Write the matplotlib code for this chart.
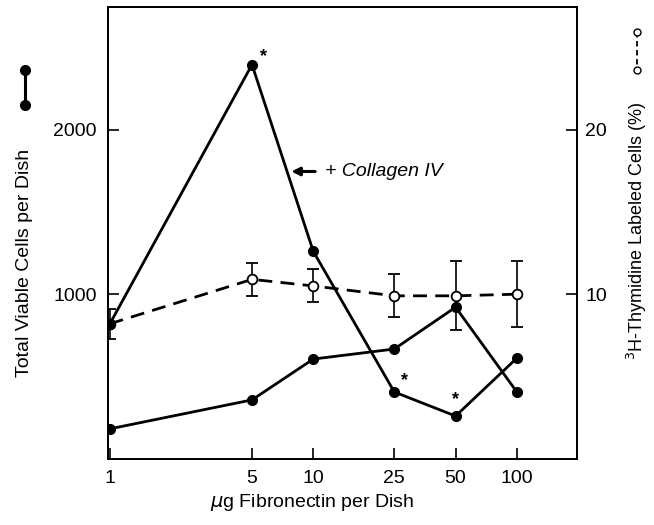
import numpy as np
import matplotlib.pyplot as plt
from matplotlib.lines import Line2D

# ------------------------------------------------------------------
# Data
# ------------------------------------------------------------------
dose = [1, 5, 10, 25, 50, 100]                      # ug fibronectin per dish
cells_collagen = [818, 2394, 1260, 406, 260, 612]   # + collagen IV
cells_fn = [182, 358, 606, 667, 921, 406]           # fibronectin alone
labeled_pct = [8.2, 10.9, 10.5, 9.9, 9.9, 10.0]     # 3H-thymidine labelled (%)
labeled_err = [0.9, 1.0, 1.0, 1.3, 2.1, 2.0]
x_ticks = [1, 5, 10, 25, 50, 100]
star_idx = [1, 3, 4]                                # significant points on collagen curve
star_offset = [(8, 0), (7, 2), (0, 6)]              # label offsets (points)

FONT = ['Liberation Sans Narrow', 'Liberation Sans', 'DejaVu Sans']
plt.rcParams['font.family'] = FONT
plt.rcParams['font.size'] = 14

fig = plt.figure(figsize=(6.54, 5.25), dpi=100)
ax = fig.add_axes([0.165, 0.126, 0.717, 0.861])
ax2 = ax.twinx()

ax.set_xscale('log')
ax.set_xlim(0.98, 197)
ax.set_ylim(0, 2745)
ax2.set_ylim(0, 27.45)

# dashed thymidine curve (right axis)
ax2.errorbar(dose, labeled_pct, yerr=labeled_err, color='black', linestyle=(0, (5, 3)),
             linewidth=2.0, marker='o', markersize=7, markerfacecolor='white',
             markeredgecolor='black', markeredgewidth=1.3, elinewidth=1.2, capsize=4,
             capthick=1.2, zorder=3)

# solid cell count curves (left axis)
ax.plot(dose, cells_collagen, color='black', linewidth=2.0, marker='o', markersize=7, zorder=4)
ax.plot(dose, cells_fn, color='black', linewidth=2.0, marker='o', markersize=7, zorder=4)
ax.set_zorder(ax2.get_zorder() + 1)
ax.patch.set_visible(False)

for i, off in zip(star_idx, star_offset):
    ax.annotate('*', xy=(dose[i], cells_collagen[i]), xytext=off,
                textcoords='offset points', fontsize=13, fontweight='bold', ha='center', va='bottom')

ax.annotate('+ Collagen IV', xy=(7.8, 1745), xytext=(11.4, 1745),
            fontsize=14, style='italic', va='center', ha='left',
            family=['Liberation Sans Narrow', 'Liberation Sans'],
            arrowprops=dict(arrowstyle='-|>', color='black', lw=2.2, mutation_scale=12,
                            shrinkA=5, shrinkB=0))

# axes styling
ax.set_xticks(x_ticks)
ax.set_xticklabels([str(t) for t in x_ticks])
ax.xaxis.set_minor_locator(plt.NullLocator())
ax.set_yticks([1000, 2000])
ax2.set_yticks([10, 20])
ax.tick_params(axis='both', direction='in', length=8, width=1.2, pad=8, labelsize=14)
ax2.tick_params(axis='y', direction='in', length=8, width=1.2, pad=6, labelsize=14)
for a in (ax, ax2):
    for s in a.spines.values():
        s.set_linewidth(1.3)

fig.text(0.477, 0.023, r'$\mu$g Fibronectin per Dish', ha='center', va='bottom', fontsize=14)

# left axis label with its symbol
fig.text(0.038, 0.5, 'Total Viable Cells per Dish', rotation=90, ha='center', va='center', fontsize=14)
fig.add_artist(Line2D([0.038, 0.038], [1 - 70 / 525, 1 - 105 / 525], color='black', lw=2.2,
                      marker='o', markersize=7, transform=fig.transFigure))

# right axis label with its symbol
fig.text(0.974, 0.56, r'$^{3}$H-Thymidine Labeled Cells (%)', rotation=90, ha='center', va='center',
         fontsize=13)
fig.add_artist(Line2D([0.974, 0.974], [1 - 32 / 525, 1 - 70 / 525], color='black', lw=1.3,
                      linestyle=(0, (3, 2)), marker='o', markersize=5, markerfacecolor='white',
                      transform=fig.transFigure))

fig.savefig('out.png', dpi=100)
